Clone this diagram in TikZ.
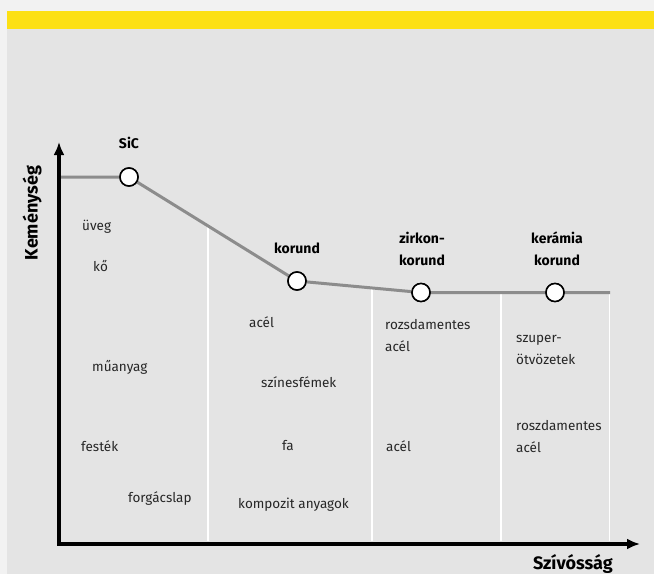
\documentclass[tikz,border=0pt]{standalone}
\usepackage{fontspec}
\setmainfont{Fira Sans}
\usetikzlibrary{arrows.meta}
\definecolor{outerbg}{HTML}{F2F2F2}
\definecolor{panelbg}{HTML}{E4E4E4}
\definecolor{band}{HTML}{FCE014}
\definecolor{curve}{HTML}{8C8C8C}
\tikzset{
  lbl/.style={anchor=west, inner sep=0pt, font=\fontsize{13.5}{22}\selectfont, align=left, text=black!85},
  head/.style={inner sep=0pt, font=\fontsize{14}{22}\selectfont\bfseries, align=center},
  axistitle/.style={inner sep=0pt, font=\fontsize{18}{20}\selectfont\bfseries},
  pt/.style={circle, draw=black, line width=1.5pt, fill=white, minimum size=18pt, inner sep=0pt},
  curveline/.style={draw=curve, line width=3pt},
  sep/.style={draw=white, line width=1.3pt},
  axis/.style={draw=black, line width=3.5pt, -{Latex[length=13pt,width=11pt]}}
}
\begin{document}
\begin{tikzpicture}[x=1pt,y=-1pt]
\useasboundingbox (0,0) rectangle (654,574);
\fill[outerbg] (0,0) rectangle (654,574);
\fill[panelbg] (7,29) rectangle (654,574);
\fill[band] (7,11) rectangle (654,29);

% curve points
\coordinate (start) at (59,177);
\node[pt] (sic) at (129,177) {};
\node[pt] (kor) at (297,281) {};
\node[pt] (zir) at (421,292.5) {};
\node[pt] (ker) at (555,292.5) {};
\coordinate (cend) at (610,292.5);

% separators
\coordinate (s1t) at (208,227);
\coordinate (s1b) at (208,541);
\coordinate (s2t) at (372,289);
\coordinate (s2b) at (372,541);
\coordinate (s3t) at (501,292.5);
\coordinate (s3b) at (501,541);
\coordinate (s4t) at (609.5,292.5);
\coordinate (s4b) at (609.5,541);
\draw[sep] (s1t) -- (s1b);
\draw[sep] (s2t) -- (s2b);
\draw[sep] (s3t) -- (s3b);
\draw[sep] (s4t) -- (s4b);

\draw[curveline] (start) -- (sic) -- (kor) -- (zir) -- (ker) -- (cend);
\node[pt] at (sic) {};
\node[pt] at (kor) {};
\node[pt] at (zir) {};
\node[pt] at (ker) {};

% axes
\coordinate (origin) at (59,544);
\coordinate (ytip) at (59,142);
\coordinate (xtip) at (640,544);
\draw[axis] ([yshift=1.75pt]origin) -- (ytip);
\draw[axis] ([xshift=-1.75pt]origin) -- (xtip);

\node[axistitle, rotate=90] (ylab) at (32,213) {Keménység};
\node[axistitle, anchor=east] (xlab) at (613,564) {Szívósság};

% headings
\node[head] (hsic) at (129,143) {SiC};
\node[head] (hkor) at (297,248) {korund};
\node[head] (hzir) at (422,249) {zirkon-\\korund};
\node[head] (hker) at (557,249) {kerámia\\korund};

% column 1
\node[lbl] (t1) at (82,227) {üveg};
\node[lbl] (t2) at (93,266) {kő};
\node[lbl] (t3) at (92,367) {műanyag};
\node[lbl] (t4) at (81,446) {festék};
\node[lbl] (t5) at (128,499) {forgácslap};
% column 2
\node[lbl] (t6) at (249,322) {acél};
\node[lbl] (t7) at (261,382) {színesfémek};
\node[lbl] (t8) at (282,446) {fa};
\node[lbl] (t9) at (238,505) {kompozit anyagok};
% column 3
\node[lbl] (t10) at (385,336) {rozsdamentes\\acél};
\node[lbl] (t11) at (386,446) {acél};
% column 4
\node[lbl] (t12) at (516,350) {szuper-\\ötvözetek};
\node[lbl] (t13) at (516,437) {roszdamentes\\acél};
\end{tikzpicture}
\end{document}
